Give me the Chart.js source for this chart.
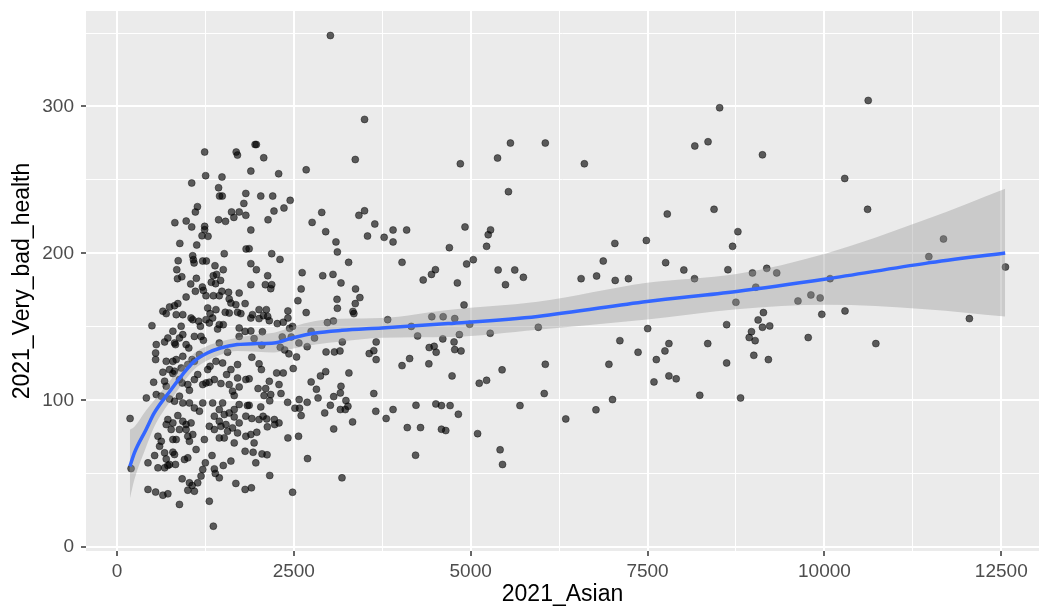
<!DOCTYPE html>
<html>
<head>
<meta charset="utf-8">
<script src="https://cdn.jsdelivr.net/npm/chart.js@4/dist/chart.umd.min.js"></script>
<style>
html,body{margin:0;padding:0;background:#fff;overflow:hidden;}
#wrap{width:1044px;height:607px;}
</style>
</head>
<body>
<div id="wrap"><canvas id="c" width="1044" height="607"></canvas></div>
<script>
// Observations: [2021_Asian, 2021_Very_bad_health]
const observations = [
[1240,269],[1686,269],[1704,266.9],[1953,274.1],[1254,252.9],[1485,252],[1057,247.9],[1437,244.7],[1451,239],[1489,239],
[1822,240.8],[1794,234],[1138,231.8],[1109,228.2],[1620,228.2],[1728,228.2],[1822,225.9],[1653,224.5],[1437,222.9],[1535,221.8],
[819,220.9],[979,222],[1057,218],[1240,218.4],[1240,216.1],[1203,212],[1288,211.6],[889,206.8],[1128,205.7],[1517,199.8],
[1826,203],[1071,198.4],[1081,195.7],[1091,193.5],[1212,194.8],[1264,194.8],[866,195],[846,188.9],[917,184.1],[856,182.8],
[1123,183],[1386,191.6],[1503,188.9],[1362,184.8],[1409,185.7],[1465,181.6],[1334,180.3],[1395,179.4],[1043,179.2],[1208,177.1],
[3017,348.3],[3500,291.2],[3369,263.9],[1971,274.1],[2075,265.1],[1893,256],[2286,254.2],[2675,256.9],[2033,239],[2202,239],
[2449,236.1],[2361,230.9],[2220,228.8],[2136,222.9],[1893,215.9],[2895,227.9],[2759,221.1],[2951,214.8],[3420,225.9],[3500,229],
[3645,220],[3542,211.8],[3777,210.9],[3903,215.9],[3903,207.8],[4095,215.9],[3096,207.8],[3116,201],[2188,199.8],[2305,195.9],
[1869,203.2],[1893,193],[1971,188.9],[3275,193.9],[4030,193.9],[2618,186.9],[2909,184.8],[3054,185.7],[3167,179.9],[4502,188.9],
[4446,185.7],[4329,181.9],[2131,184.8],[1893,178.7],[2098,178.7],[2188,178.7],[2174,176],[2604,175.8],[3373,175.8],[3434,169.9],
[3369,165.8],[2558,167.8],[3111,168.7],[3116,162.6],[3336,160.5],[3349,159],[2675,159.7],[2417,160.8],[1916,158.3],[2009,161.7],
[2112,161.7],[2070,157.6],[2131,157.1],[2009,155.6],[1893,156],[2154,154.2],[2267,152.2],[2351,153.1],[2417,156],[2483,150.3],
[2441,149],[2975,152.9],[3060,154],[3827,154.9],[4451,156.9],[4611,156.9],[4161,150.3],[4250,143.8],[1893,147.2],[2056,146.7],
[2337,143.1],[2745,146.9],[2793,142.4],[2689,136.5],[2572,139],[2464,143.1],[2047,137.4],[1939,142],[3664,139.7],[3186,139.7],
[2956,132.9],[3074,132.9],[3153,133.6],[3566,131.8],[3631,133.8],[3664,127.7],[4030,123.6],[4137,128.4],[4409,124.8],[4414,135.9],
[4484,136.7],[4512,132.7],[2309,136.1],[2371,134.3],[2431,131.6],[2539,129.5],[2492,121.6],[2009,124.8],[2042,120.9],[2258,118.6],
[2351,118.6],[2154,112.9],[1995,108],[2103,108],[2291,110.7],[2319,104.6],[2174,103.9],[2080,103.2],[2160,99.6],[2413,98.6],
[2576,100.5],[2745,112.5],[2820,107.5],[2877,116.6],[2951,119.5],[3279,118.6],[2843,101.6],[3167,109.5],[3158,105],[3064,102.5],
[3631,104.6],[2516,94.6],[2581,94.6],[2604,89.6],[2689,98.6],[3017,96.6],[2937,91.4],[3158,93.7],[3228,93.7],[3237,99.8],
[3265,95.9],[3331,85.3],[3064,80.5],[3659,92.5],[3805,87.6],[3903,93.7],[4227,96.6],[4508,97.5],[4104,81.4],[4291,81.4],
[4221,62.6],[2417,74.4],[2567,75.5],[2694,60.3],[3181,47.2],[2483,37.4],[2160,48.8],[1901,40.4],[2033,95.5],[2066,89.1],
[1907,87.6],[2009,86.9],[2117,87.3],[2225,86.9],[2291,84.6],[2126,81.9],[2230,83.5],[1977,78.2],[1893,76.7],[1939,71],
[1925,64.6],[2051,63.5],[2122,62.9],[1963,57.4],[1869,114.6],[1869,96.6],[1907,129.3],
[4854,261],[5380,264.9],[5562,275.1],[6055,275.1],[6607,261],[8168,273.1],[8355,276],[5534,242],[7779,226.8],[8440,230],
[4920,218],[5281,216],[5248,212.7],[5225,204.8],[4699,203.9],[7038,206.8],[7483,208.8],[4943,192.8],[5037,195.7],[5388,188.7],
[5623,188.7],[5745,183.7],[5492,178.7],[4812,179.9],[6874,194.8],[6780,184.6],[6561,182.8],[7043,181.6],[7230,182.8],[7756,193.7],
[8013,188.7],[8164,182.8],[4906,164.9],[4775,155.6],[4986,151.7],[5276,145.6],[4840,144.7],[5956,149.7],[4606,141.8],[4765,139.7],
[4775,134.5],[4864,133.6],[7502,148.8],[7109,140.6],[7366,132.7],[7624,127.7],[7746,133.6],[7802,138.6],[8351,138.6],[6055,124.5],
[6954,124.5],[5444,120.7],[4737,116.6],[5121,111.6],[5225,113.6],[7802,116.6],[7905,114.6],[7591,112.5],[6040,104.6],[7005,100.5],
[8238,103.4],[6771,93.5],[6344,87.3],[5697,96.4],[4587,96.4],[4709,96.4],[4826,90.5],[4587,80.3],[4648,79.4],[5098,77.3],
[5416,66.3],[5450,56.3],
[10619,304.1],[8519,299.1],[9124,267.1],[10287,251],[10610,230],[8777,214.8],[8702,204.8],[8636,188.9],[8983,186.7],[9185,189.8],
[9326,186.7],[9030,177],[8749,166.7],[10080,182.8],[9809,171.7],[9940,169.7],[9626,167.6],[11476,197.8],[11683,209.8],[12559,190.7],
[12049,155.6],[9963,158.5],[10291,160.8],[9138,159.7],[9063,154.7],[9124,149.7],[9227,150.6],[8618,151.5],[8969,146.7],[8937,142.7],
[9021,140.6],[9771,142.7],[10727,138.6],[9002,130.6],[9208,127.7],[8618,125.4],[8815,101.6],
[186,87.6],[200,53.5],
[978,170.3],[1109,174.2],[1222,174.8],[1259,171.2],[1363,171.2],[1447,171.2],[1484,174.2],[1578,173.5],[1587,169],[1611,166.2],
[1681,165.1],[1728,173],[1812,165.8],[1752,159],[1705,159.9],[1587,159.4],[1531,159.9],[1400,161.7],[1283,162.8],[1316,159],
[1259,154.9],[1353,156],[1447,151.5],[1503,151.5],[1423,148.5],[1306,152.6],[1180,150.4],[1156,153.8],[1072,154.9],[1048,156],
[931,158.3],[838,158.3],[814,164.4],[744,163.5],[861,165.8],[650,160.6],[697,159],[495,150.8],[791,147],[908,150.4],
[931,144.7],[884,142.4],[720,142.4],[674,139.7],[556,137.9],[547,132.2],[547,127.7],[814,139],[828,137.9],[978,137.9],
[1016,135.6],[1095,143.5],[1189,143.5],[1222,140.8],[1166,131.1],[1447,139],[1564,132.7],[1728,149.2],[1812,146.9],[1728,143.5],
[1705,124.3],[1611,120.9],[1494,125.4],[1400,126.5],[1316,123.1],[1283,120.9],[1095,126.5],[1063,127.7],[931,129.9],[838,127.7],
[791,126.5],[697,126.5],[744,120.9],[908,122],[1002,124.3],
[519,112.3],[650,119.1],[674,113],[697,109.6],[791,118.2],[814,119.8],[884,114.1],[922,111.8],[1002,110.7],[1025,106.8],
[1095,114.1],[1142,117.5],[1213,110.7],[1259,111.8],[1306,112.3],[1377,114.1],[1470,111.4],[1550,117.5],[1587,110.7],[1634,106.2],
[1658,103.2],[1705,115.2],[1728,109.1],[1822,114.1],[416,101.6],[556,103.9],[627,102.8],[744,100.9],[814,99.4],[884,102.8],
[931,98.2],[1025,98.2],[1095,94.8],[1166,92.6],[861,89.6],[720,86.9],[697,83.5],[791,84.6],[767,80.1],[931,85.7],
[978,83.5],[1048,84.6],[1072,76.7],[978,80.1],[884,80.1],[1002,75.5],[580,75.5],[627,72.1],[603,68.7],[791,73.3],
[838,73.3],[1025,72.1],[1119,66.5],[1236,73.3],[1353,98.2],[1494,98.2],[1447,93.7],[1377,89.2],[1447,85.7],[1517,90.3],
[1587,91.4],[1658,93.7],[1728,97.1],[1845,96.4],[1306,82.3],[1377,80.1],[1470,82.3],[1541,83.5],[1564,78.9],[1634,81.2],
[1705,77.8],[1517,74.4],[1658,71],[1447,74.4],[1822,75.5],[1812,65.3],[1658,88.7],[1728,84.6],[1822,89.2],[1213,98.2],
[533,62.4],[674,64.2],[791,64.7],[814,63.1],[697,60.1],[744,56.3],[828,56.3],[955,59.7],[1002,60.8],[580,54],
[674,54],[720,55.6],[439,57.4],[1344,62.4],[1250,57.4],[1213,52.9],[1189,48.4],[1377,53.3],[1391,50.2],[1447,47.2],
[1503,55.6],[1611,58.6],[922,46.5],[1025,43.8],[1063,42],[1142,43.8],[1002,38.8],[1095,38.1],[439,39.3],[547,37.5],
[650,35.4],[720,36.3],[884,29.1],[1306,31.3],[1681,43.4],[1812,39.3],[1363,14.3]
];

// Loess smooth
const smoothX     = [183, 247, 411, 528, 762, 927, 1091, 1278, 1465, 1700, 1981, 2220, 2478, 2806, 3181, 3743, 4681, 5946, 7493, 8758, 10024, 11430, 12555];
const smoothY     = [55, 64.2, 80, 91.4, 107, 117.5, 126.5, 132.2, 135.6, 137.9, 138.6, 139, 142.4, 145.8, 147.6, 149.2, 152.2, 157.1, 167.3, 174.1, 182.6, 193.2, 200.3];
const smoothLower = [33, 46, 68, 82, 100, 111.5, 121, 127, 131, 133.5, 133, 132.5, 135, 138, 140, 142.5, 143, 148, 155, 162, 165, 162, 157];
const smoothUpper = [80, 82, 93, 100, 114, 123.5, 132, 137, 140, 142.5, 145, 146, 150, 154, 155.5, 156, 161.5, 167, 180, 186, 200, 223, 244];

const xTicks = [0, 1250, 2500, 3750, 5000, 6250, 7500, 8750, 10000, 11250, 12500];
const xLabelTicks = [0, 2500, 5000, 7500, 10000, 12500];
const yTicks = [0, 50, 100, 150, 200, 250, 300, 350];
const yLabelTicks = [0, 100, 200, 300];

const toXY = (xs, ys) => xs.map((x, i) => ({x: x, y: ys[i]}));

const panelBg = {
  id: 'panelBg',
  beforeDraw(chart) {
    const {ctx, chartArea: a} = chart;
    ctx.save();
    ctx.fillStyle = '#EBEBEB';
    ctx.fillRect(a.left, a.top, a.right - a.left, a.bottom - a.top);
    ctx.restore();
  }
};

const FONT = "'Liberation Sans', Arial, Helvetica, sans-serif";

const zeroPad = s => { s.paddingTop = 0; s.paddingBottom = 0; s.paddingLeft = 0; s.paddingRight = 0; };

new Chart(document.getElementById('c'), {
  type: 'scatter',
  data: {
    datasets: [
      {
        label: 'fit',
        type: 'line',
        data: toXY(smoothX, smoothY),
        borderColor: '#3366FF',
        borderWidth: 3.5,
        pointRadius: 0,
        fill: false,
        cubicInterpolationMode: 'monotone',
        order: 1
      },
      {
        label: 'upper',
        type: 'line',
        data: toXY(smoothX, smoothUpper),
        borderWidth: 0,
        borderColor: 'rgba(0,0,0,0)',
        backgroundColor: 'rgba(153,153,153,0.4)',
        pointRadius: 0,
        fill: '+1',
        cubicInterpolationMode: 'monotone',
        order: 2
      },
      {
        label: 'lower',
        type: 'line',
        data: toXY(smoothX, smoothLower),
        borderWidth: 0,
        borderColor: 'rgba(0,0,0,0)',
        pointRadius: 0,
        fill: false,
        cubicInterpolationMode: 'monotone',
        order: 3
      },
      {
        label: 'points',
        data: observations.map(p => ({x: p[0], y: p[1]})),
        backgroundColor: 'rgba(0,0,0,0.62)',
        borderColor: 'rgba(0,0,0,0.4)',
        borderWidth: 1,
        pointRadius: 3.5,
        order: 4
      }
    ]
  },
  options: {
    responsive: false,
    animation: false,
    events: [],
    layout: {padding: {top: 11, right: 0, bottom: 0, left: 0}},
    plugins: {legend: {display: false}, tooltip: {enabled: false}},
    scales: {
      x: {
        type: 'linear',
        min: -437,
        max: 13033,
        afterBuildTicks: s => { s.ticks = xTicks.map(v => ({value: v})); },
        afterFit: s => { s.height = 56; zeroPad(s); },
        border: {display: false},
        grid: {
          color: '#FFFFFF',
          lineWidth: c => (xLabelTicks.includes(c.tick.value) ? 2 : 1),
          tickColor: c => (xLabelTicks.includes(c.tick.value) ? '#333333' : 'rgba(0,0,0,0)'),
          tickWidth: 1.5,
          tickLength: 5,
          drawTicks: true
        },
        ticks: {
          autoSkip: false,
          maxRotation: 0,
          padding: 4,
          color: '#4D4D4D',
          font: {family: FONT, size: 19},
          callback: v => (xLabelTicks.includes(v) ? String(v) : '')
        },
        title: {
          display: true,
          text: '2021_Asian',
          color: '#000000',
          font: {family: FONT, size: 23, lineHeight: 1.1},
          padding: {top: 0, bottom: 0}
        }
      },
      y: {
        type: 'linear',
        min: -2.6,
        max: 365,
        afterBuildTicks: s => { s.ticks = yTicks.map(v => ({value: v})); },
        afterFit: s => { s.width = 86; zeroPad(s); },
        border: {display: false},
        grid: {
          color: '#FFFFFF',
          lineWidth: c => (yLabelTicks.includes(c.tick.value) ? 2 : 1),
          tickColor: c => (yLabelTicks.includes(c.tick.value) ? '#333333' : 'rgba(0,0,0,0)'),
          tickWidth: 1.5,
          tickLength: 5,
          drawTicks: true
        },
        ticks: {
          autoSkip: false,
          padding: 7,
          color: '#4D4D4D',
          font: {family: FONT, size: 19},
          callback: v => (yLabelTicks.includes(v) ? String(v) : '')
        },
        title: {
          display: true,
          text: '2021_Very_bad_health',
          color: '#000000',
          font: {family: FONT, size: 23, lineHeight: 1.1},
          padding: {top: 10, bottom: 0}
        }
      }
    }
  },
  plugins: [panelBg]
});
</script>
</body>
</html>
